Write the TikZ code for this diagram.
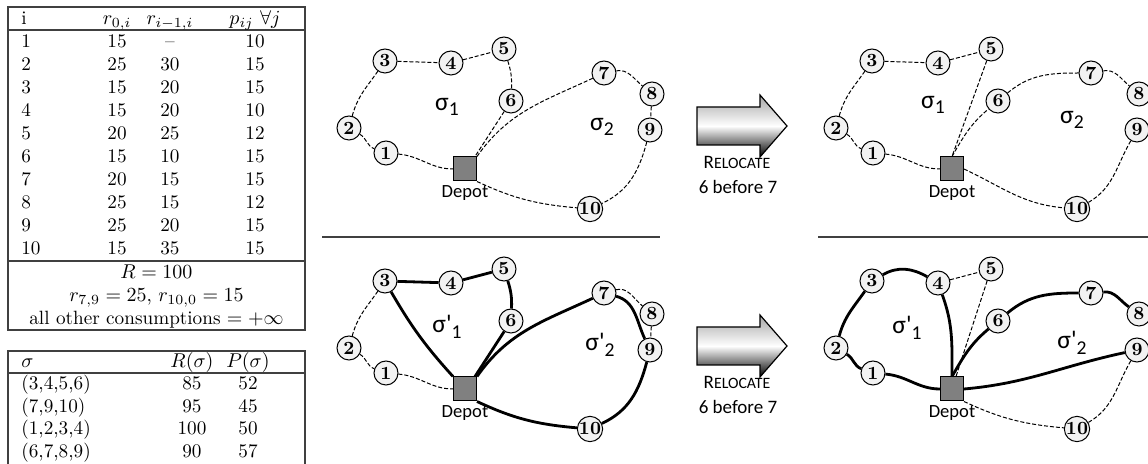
\documentclass[tikz,border=0pt]{standalone}
\usepackage{fontspec}
\newfontfamily\calib{Carlito}
\newcommand\mysub[1]{\raisebox{-0.45ex}{\fontsize{9.8}{10}\selectfont #1}}
\tikzset{
  vtx/.style={circle, draw=black, line width=0.5pt, fill=gray!10, minimum size=12pt, inner sep=0pt, font=\fontsize{9.3}{9.3}\selectfont\bfseries},
  depot/.style={rectangle, draw=black, line width=0.5pt, fill=black!50, minimum width=11.5pt, minimum height=12pt, inner sep=0pt},
  deplbl/.style={font=\calib\fontsize{9.3}{10}\selectfont, inner sep=0pt},
  sig/.style={font=\calib\fontsize{12.8}{13}\selectfont, inner sep=0pt},
  rel/.style={font=\calib\fontsize{9.5}{10}\selectfont, inner sep=0pt},
  dsh/.style={line width=0.5pt, dash pattern=on 2pt off 1pt},
  thk/.style={line width=1.4pt},
  cell/.style={font=\fontsize{9.6}{11.5}\selectfont, inner sep=0pt},
  tline/.style={line width=0.7pt, draw=black!75},
  sepline/.style={line width=0.6pt, draw=black!75},
  bigarrow/.style={draw=black, line width=0.6pt, top color=gray!70, bottom color=black, middle color=white}
}
\newcommand\mypanel[3]{%
 \begin{scope}[shift={(#2,#3)}]
  \node[depot] (#1D) at (465,-169) {};
  \node[deplbl] (#1L) at (465,-193) {Depot};
  \node[vtx] (#11) at (386,-153) {1};
  \node[vtx] (#12) at (349,-128) {2};
  \node[vtx] (#13) at (385,-61) {3};
  \node[vtx] (#14) at (451,-63) {4};
  \node[vtx] (#15) at (504,-49) {5};
  \node[vtx] (#16) at (511,-101) {6};
  \node[vtx] (#17) at (604,-73) {7};
  \node[vtx] (#18) at (652,-94) {8};
  \node[vtx] (#19) at (650,-130) {9};
  \node[vtx] (#110) at (590,-209) {10};
 \end{scope}}
\begin{document}
\begin{tikzpicture}[x=0.5pt,y=0.5pt]
\useasboundingbox (0,0) rectangle (1148,-464);
\clip (0,0) rectangle (1148,-464);
% ---------------- table 1
\draw[tline] (8,-7) rectangle (305,-330);
\draw[tline] (8,-30) -- (305,-30);
\draw[tline] (8,-261) -- (305,-261);
\node[cell,anchor=base west] (h1) at (21,-25) {i};
\node[cell,anchor=base] (h2) at (117,-25) {$r_{0,i}$};
\node[cell,anchor=base] (h3) at (170,-25) {$r_{i-1,i}$};
\node[cell,anchor=base] (h4) at (255,-25) {$p_{ij}\ \forall j$};
\foreach \i/\a/\b/\c [count=\k] in {1/15/--/10,2/25/30/15,3/15/20/15,4/15/20/10,5/20/25/12,6/15/10/15,7/20/15/15,8/25/15/12,9/25/20/15,10/15/35/15}{
  \node[cell,anchor=base west] (ra\k) at (21,{-47.5-23*(\k-1)}) {\i};
  \node[cell,anchor=base] (rb\k) at (117,{-47.5-23*(\k-1)}) {\a};
  \node[cell,anchor=base] (rc\k) at (170,{-47.5-23*(\k-1)}) {\b};
  \node[cell,anchor=base] (rd\k) at (255,{-47.5-23*(\k-1)}) {\c};
}
\node[cell,anchor=base] (tR) at (156.5,-278.5) {$R=100$};
\node[cell,anchor=base] (tr) at (156.5,-301.5) {$r_{7,9}=25$, $r_{10,0}=15$};
\node[cell,anchor=base] (tall) at (156.5,-324.5) {all other consumptions $=+\infty$};
% ---------------- table 2
\draw[tline] (8,-470) -- (8,-351) -- (305,-351) -- (305,-470);
\draw[tline] (8,-373) -- (305,-373);
\node[cell,anchor=base west] (g1) at (21,-368) {$\sigma$};
\node[cell,anchor=base] (g2) at (192,-368) {$R(\sigma)$};
\node[cell,anchor=base] (g3) at (248,-368) {$P(\sigma)$};
\foreach \s/\r/\p [count=\k] in {{(3,4,5,6)}/85/52,{(7,9,10)}/95/45,{(1,2,3,4)}/100/50,{(6,7,8,9)}/90/57}{
  \node[cell,anchor=base west] (sa\k) at (21,{-390-22.5*(\k-1)}) {\s};
  \node[cell,anchor=base] (sb\k) at (192,{-390-22.5*(\k-1)}) {\r};
  \node[cell,anchor=base] (sc\k) at (248,{-390-22.5*(\k-1)}) {\p};
}
% ---------------- separators
\coordinate (m1) at (322,-237); \coordinate (m2) at (660,-237);
\coordinate (n1) at (818,-237); \coordinate (n2) at (1150,-237);
\draw[sepline] (m1) -- (m2);
\draw[sepline] (n1) -- (n2);
% ---------------- arrows
\path[bigarrow] (697,-107) -- (760,-107) -- (760,-95) -- (787,-126) -- (760,-157) -- (760,-145) -- (697,-145) -- cycle;
\path[bigarrow] (697,-327) -- (760,-327) -- (760,-315) -- (787,-346) -- (760,-377) -- (760,-365) -- (697,-365) -- cycle;
\node[rel] (rel1) at (737,-162) {R{\fontsize{7.9}{8}\selectfont ELOCATE}};
\node[rel] (bef1) at (738,-187) {6 before 7};
\node[rel] (rel2) at (737,-382) {R{\fontsize{7.9}{8}\selectfont ELOCATE}};
\node[rel] (bef2) at (738,-407) {6 before 7};
% ---------------- panels
\mypanel{a}{0}{0}
\mypanel{b}{0}{-220}
\mypanel{c}{487}{0}
\mypanel{d}{487}{-220}
% sigma labels
\node[sig] (la1) at (447,-107) {σ\mysub{1}};
\node[sig] (la2) at (602,-127) {σ\mysub{2}};
\node[sig] (lb1) at (447,-327) {σ\textquotesingle\mysub{1}};
\node[sig] (lb2) at (600,-345) {σ\textquotesingle\mysub{2}};
\node[sig] (lc1) at (933,-105) {σ\mysub{1}};
\node[sig] (lc2) at (1072,-120) {σ\mysub{2}};
\node[sig] (ld1) at (907,-328) {σ\textquotesingle\mysub{1}};
\node[sig] (ld2) at (1072,-343) {σ\textquotesingle\mysub{2}};
% ---------------- panel a (top middle)
\draw[dsh] (a1) to[out=-5,in=180] (aD.west);
\draw[dsh] (a2) to[out=-30,in=160] (a1);
\draw[dsh] (a2) to[out=75,in=235] (a3);
\draw[dsh] (a3) -- (a4);
\draw[dsh] (a4) -- (a5);
\draw[dsh] (a5) to[bend left=10] (a6);
\draw[dsh] (a6) -- ([xshift=-1pt]aD.north east);
\draw[dsh] (aD.north east) to[out=55,in=205] (a7);
\draw[dsh] (a7) to[out=10,in=140] (a8);
\draw[dsh] (a8) -- (a9);
\draw[dsh] (a9) to[out=-105,in=25] (a10);
\draw[dsh] (aD.south east) to[out=-25,in=175] (a10);
% ---------------- panel b (bottom middle)
\draw[dsh] (b1) to[out=-5,in=180] (bD.west);
\draw[dsh] (b2) to[out=-30,in=160] (b1);
\draw[dsh] (b2) to[out=75,in=235] (b3);
\draw[thk] (b3) -- (b4);
\draw[thk] (b4) -- (b5);
\draw[thk] (b5) to[bend left=10] (b6);
\draw[thk] (b6) -- ([xshift=-1pt]bD.north east);
\draw[thk] (b3) to[bend right=6] (bD.north west);
\draw[thk] (bD.north east) to[out=55,in=205] (b7);
\draw[dsh] (b7) to[out=15,in=140] (b8);
\draw[dsh] (b8) -- (b9);
\draw[thk] (b7) to[out=-15,in=115] (b9);
\draw[thk] (b9) to[out=-105,in=25] (b10);
\draw[thk] (bD.south east) to[out=-25,in=175] (b10);
% ---------------- panel c (top right)
\draw[dsh] (c1) to[out=-5,in=180] (cD.west);
\draw[dsh] (c2) to[out=-30,in=160] (c1);
\draw[dsh] (c2) to[out=75,in=235] (c3);
\draw[dsh] (c3) -- (c4);
\draw[dsh] (c4) -- (c5);
\draw[dsh] (c5) -- (cD.north);
\draw[dsh] (cD.north) to[out=60,in=220] (c6);
\draw[dsh] (c6) to[out=40,in=180] (c7);
\draw[dsh] (c7) to[out=10,in=140] (c8);
\draw[dsh] (c8) to[out=-30,in=30] (c9);
\draw[dsh] (c9) to[out=-120,in=30] (c10);
\draw[dsh] (cD.east) to[out=-25,in=175] (c10);
% ---------------- panel d (bottom right)
\draw[thk] (d1) to[out=-5,in=180] (dD.west);
\draw[thk] (d2) to[out=-30,in=160] (d1);
\draw[thk] (d2) to[out=75,in=235] (d3);
\draw[thk] (d3) to[out=30,in=150] (d4);
\draw[thk] (d4) to[out=-70,in=90] (dD.north);
\draw[dsh] (d4) -- (d5);
\draw[dsh] (d5) -- ([xshift=2pt]dD.north);
\draw[thk] (dD.north) to[out=60,in=220] (d6);
\draw[thk] (d6) to[out=40,in=180] (d7);
\draw[thk] (d7) to[out=5,in=145] (d8);
\draw[thk] (dD.east) to[out=5,in=192] (d9);
\draw[dsh] (dD.south east) to[out=-25,in=175] (d10);
\draw[dsh] (d9) to[out=-120,in=30] (d10);
\end{tikzpicture}
\end{document}
